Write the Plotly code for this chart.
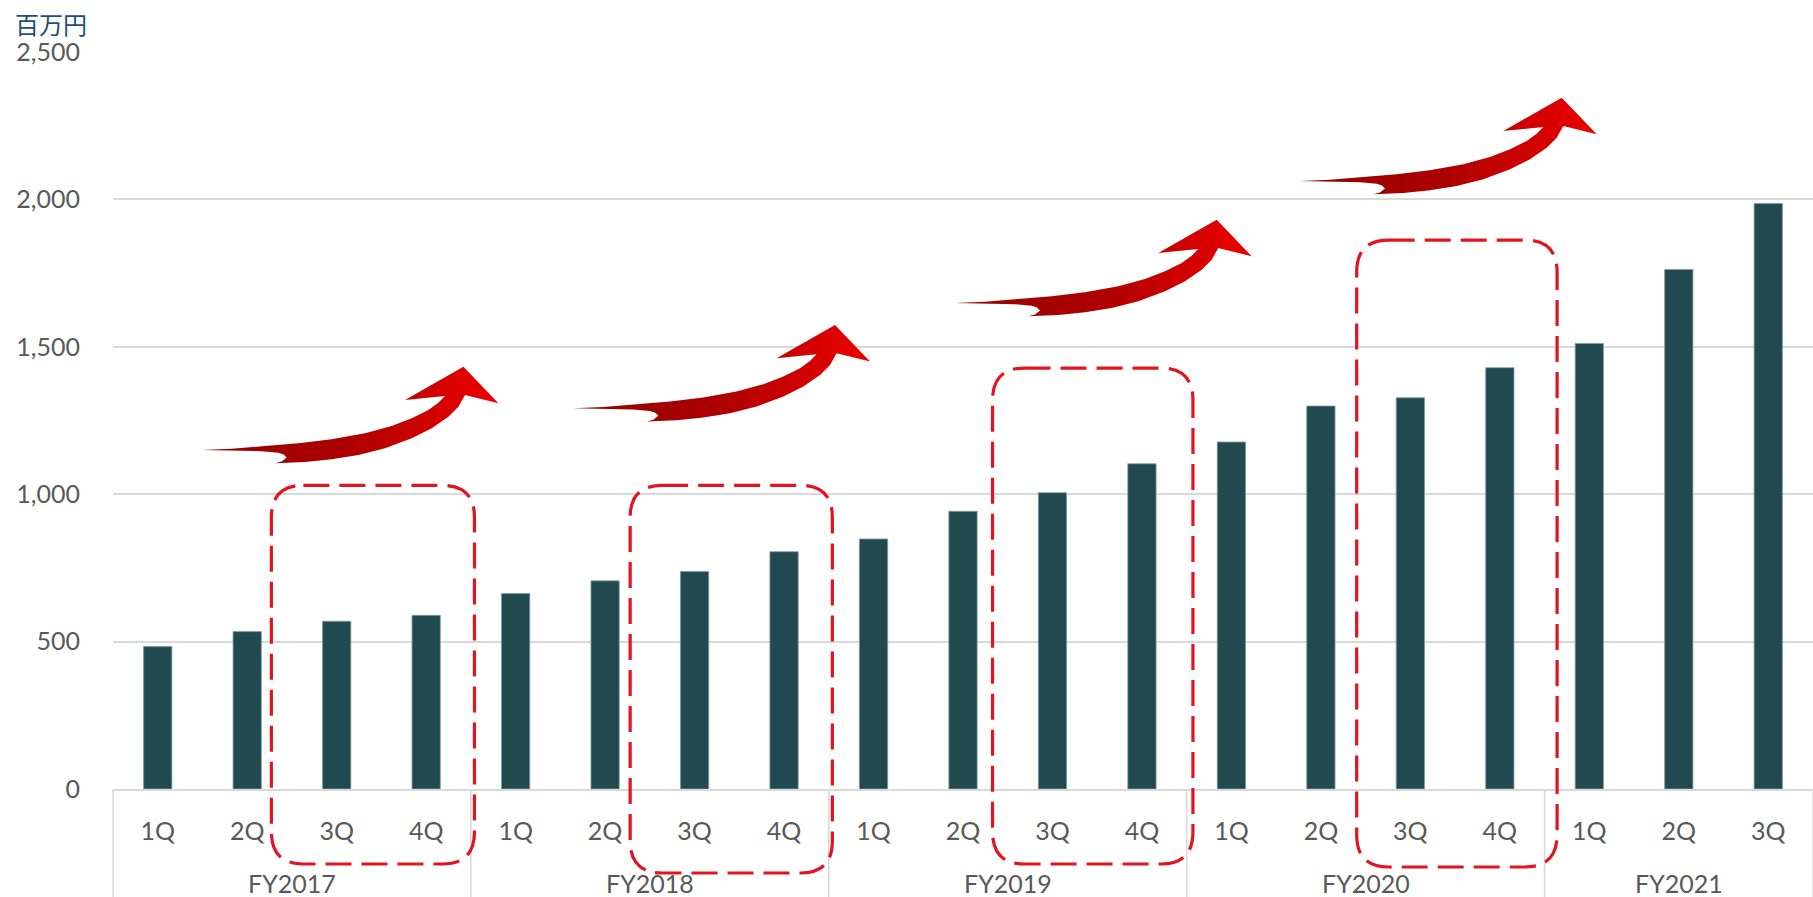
import plotly.graph_objects as go

# ---------------- data ----------------
fiscal_years = ["FY2017"] * 4 + ["FY2018"] * 4 + ["FY2019"] * 4 + ["FY2020"] * 4 + ["FY2021"] * 3
quarters = ["1Q", "2Q", "3Q", "4Q"] * 4 + ["1Q", "2Q", "3Q"]
revenue = [483, 534, 569, 589,
           663, 706, 738, 805,
           848, 942, 1005, 1103,
           1177, 1299, 1327, 1429,
           1511, 1762, 1986]
y_ticks = [0, 500, 1000, 1500, 2000, 2500]
unit_label = "百万円"

# ---------------- layout constants ----------------
W, H = 1813, 897
ML, MR, MT, MB = 113, 0, 52, 108
PW, PH = W - ML - MR, H - MT - MB
N = len(revenue)
YMAX = 2500

BAR_COLOR = "#204A4F"
GRID = "#D9D9D9"
TEXT = "#595959"
RED = "#E3141F"
FONT = "Lato, 'Open Sans', sans-serif"

cats = [f"{fy} {q}" for fy, q in zip(fiscal_years, quarters)]


def px_x(i):
    return ML + (i + 0.5) * PW / N


def paper_x_px(px):
    return (px - ML) / PW


def paper_y_px(py):
    return (H - MB - py) / PH


fig = go.Figure()

fig.add_trace(go.Bar(
    x=cats, y=revenue,
    marker=dict(color=BAR_COLOR, line=dict(color="#7F9A9C", width=0.8)),
    width=0.316,
    hoverinfo="x+y",
    showlegend=False,
))

# ---------------- decorative arrows (pixel template, relative to tail tip) ----------------
arrow_tpl = [(0, 0),
             # upper edge of shaft
             (30, -1.3), (63.3, -4), (96.7, -6.7), (130, -10.7), (163.3, -16.7),
             (190, -24), (210, -31.7), (226.7, -40), (236.7, -47.3), (243.3, -54),
             # head
             (203.3, -50), (261.7, -83.3), (296.7, -46.7), (263.3, -55),
             # lower edge of shaft
             (256.7, -43.3), (246.7, -33.3), (230, -21.7), (210, -11.7), (183.3, -1.7),
             (156.7, 5), (130, 9.3), (103.3, 12), (73.3, 13.3),
             # fish tail notch
             (80, 11.5), (85, 7.5), (82, 4.5), (76.7, 2.7), (60, 1.2), (30, 0.6), (0, 0)]
arrow_tails = [(201.7, 450), (573.3, 408.3), (955, 303), (1300, 181)]

for tx, ty in arrow_tails:
    fig.add_trace(go.Scatter(
        x=[tx + dx for dx, dy in arrow_tpl],
        y=[ty + dy for dx, dy in arrow_tpl],
        xaxis="x2", yaxis="y2",
        mode="lines", line=dict(width=0, color="rgba(0,0,0,0)"),
        fill="toself",
        fillgradient=dict(type="horizontal",
                          colorscale=[[0, "#920000"], [0.5, "#AE0000"], [1, "#EE0000"]]),
        hoverinfo="skip", showlegend=False,
    ))

# ---------------- dashed rounded highlight boxes ----------------
box_x0 = [1.27, 5.28, 9.33, 13.40]     # category-index units
box_x1 = [3.54, 7.54, 11.57, 15.64]
box_top = [1030, 1030, 1428, 1862]     # value units
box_bottom_px = [864, 873, 864, 867]
R = 32
shapes = []
for a, b, t, bp in zip(box_x0, box_x1, box_top, box_bottom_px):
    x0 = paper_x_px(px_x(a))
    x1 = paper_x_px(px_x(b))
    y1 = t / YMAX
    y0 = paper_y_px(bp)
    rx, ry = R / PW, R / PH
    path = (f"M {x0+rx},{y1} L {x1-rx},{y1} Q {x1},{y1} {x1},{y1-ry} "
            f"L {x1},{y0+ry} Q {x1},{y0} {x1-rx},{y0} L {x0+rx},{y0} "
            f"Q {x0},{y0} {x0},{y0+ry} L {x0},{y1-ry} Q {x0},{y1} {x0+rx},{y1} Z")
    shapes.append(dict(type="path", path=path, xref="paper", yref="paper",
                       line=dict(color=RED, width=3.2, dash="26px,10px"),
                       fillcolor="rgba(0,0,0,0)", layer="above"))

# ---------------- group dividers and FY labels ----------------
bounds = [0] + [k for k in range(1, N) if fiscal_years[k] != fiscal_years[k - 1]] + [N]
for k in bounds:
    shapes.append(dict(type="line", xref="paper", yref="paper",
                       x0=k / N, x1=k / N, y0=0, y1=-MB / PH,
                       line=dict(color=GRID, width=1.5), layer="below"))

annotations = []
for s, e in zip(bounds[:-1], bounds[1:]):
    annotations.append(dict(x=(s + e - 1) / 2, xref="x", y=paper_y_px(883), yref="paper",
                            text=fiscal_years[s], showarrow=False, xanchor="center",
                            yanchor="middle", font=dict(size=25, color=TEXT, family=FONT)))

annotations.append(dict(x=paper_x_px(13), xref="paper", y=paper_y_px(23), yref="paper",
                        text=unit_label, showarrow=False, xanchor="left", yanchor="middle",
                        font=dict(size=24, color="#1F4E79",
                                  family="'Noto Sans CJK JP', sans-serif")))

fig.update_layout(
    width=W, height=H,
    margin=dict(l=ML, r=MR, t=MT, b=MB, pad=0),
    plot_bgcolor="white", paper_bgcolor="white",
    font=dict(family=FONT, size=25, color=TEXT),
    showlegend=False,
    shapes=shapes,
    annotations=annotations,
    xaxis=dict(type="category", categoryorder="array", categoryarray=cats,
               tickvals=cats, ticktext=quarters, range=[-0.5, N - 0.5],
               showline=True, linecolor=GRID, linewidth=1.5, showgrid=False,
               ticks="", ticklabelstandoff=19, tickfont=dict(size=25, color=TEXT, family=FONT)),
    yaxis=dict(range=[0, YMAX], tickvals=y_ticks, tickformat=",",
               showgrid=True, gridcolor=GRID, gridwidth=1.5, zeroline=False,
               showline=False, ticks="", ticklabelstandoff=32,
               tickfont=dict(size=25, color=TEXT, family=FONT)),
    xaxis2=dict(overlaying="x", range=[ML, W - MR], visible=False, anchor="y2"),
    yaxis2=dict(overlaying="y", range=[H - MB, MT], visible=False, anchor="x2"),
)

fig.write_html("out.html")
